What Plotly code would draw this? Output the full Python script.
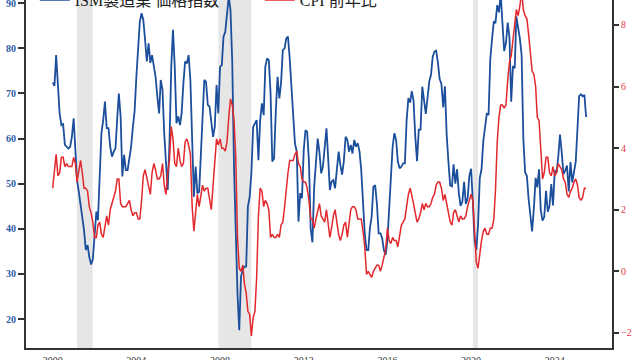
import pandas as pd
import plotly.graph_objects as go

# ISM Manufacturing Prices Index (monthly, Jan 2000 - Jul 2025)
ism_2000 = [72.4, 71.7, 78.5, 72.2, 65.6, 63.0, 63.2, 58.6, 58.2, 57.8, 58.2, 60.4]
ism_2001 = [64.5, 58.2, 50.8, 48.2, 45.3, 42.7, 39.7, 35.3, 36.4, 33.8, 32.1, 33.1]
ism_2002 = [39.0, 43.8, 41.9, 53.0, 61.2, 64.1, 68.2, 62.3, 62.3, 58.2, 56.0, 57.1]
ism_2003 = [57.8, 64.5, 70.0, 64.9, 51.6, 56.4, 53.0, 53.0, 55.2, 58.2, 62.6, 66.0]
ism_2004 = [73.7, 81.1, 85.9, 87.8, 86.3, 81.9, 77.1, 81.1, 76.8, 78.5, 76.0, 73.7]
ism_2005 = [69.3, 65.6, 73.0, 70.8, 61.2, 53.8, 48.6, 59.0, 75.9, 84.1, 75.9, 63.4]
ism_2006 = [64.9, 63.0, 65.6, 72.3, 77.1, 76.7, 78.5, 73.0, 61.2, 47.1, 53.8, 47.9]
ism_2007 = [48.2, 56.0, 62.6, 73.0, 72.6, 67.5, 67.1, 63.4, 60.4, 62.6, 71.9, 65.6]
ism_2008 = [75.9, 76.3, 82.6, 83.7, 87.8, 91.5, 88.5, 77.0, 53.5, 37.0, 25.5, 17.5]
ism_2009 = [29.4, 30.9, 31.6, 31.6, 44.9, 47.1, 52.3, 62.6, 63.4, 64.1, 55.2, 64.1]
ism_2010 = [67.8, 65.2, 75.9, 77.8, 77.4, 70.0, 54.9, 55.6, 66.3, 73.7, 68.9, 72.3]
ism_2011 = [79.6, 80.0, 82.2, 82.6, 77.8, 71.5, 65.6, 58.9, 57.1, 41.6, 47.9, 46.8]
ism_2012 = [57.5, 61.9, 61.5, 55.0, 40.0, 37.0, 49.3, 54.5, 60.0, 57.0, 52.3, 53.8]
ism_2013 = [58.2, 62.3, 56.0, 48.6, 50.5, 50.8, 49.0, 54.1, 57.1, 54.1, 52.0, 55.0]
ism_2014 = [60.4, 59.7, 57.1, 58.6, 56.7, 59.7, 58.2, 59.0, 57.1, 53.0, 44.9, 39.0]
ism_2015 = [35.3, 35.3, 40.1, 42.7, 49.3, 49.7, 45.6, 39.0, 39.0, 37.9, 35.3, 34.2]
ism_2016 = [37.5, 44.9, 52.3, 58.2, 61.2, 59.7, 54.9, 53.4, 53.8, 54.5, 54.5, 64.0]
ism_2017 = [69.0, 68.0, 70.5, 68.5, 60.5, 55.0, 62.0, 62.0, 71.5, 68.5, 65.5, 69.0]
ism_2018 = [72.7, 74.2, 78.1, 79.3, 79.5, 76.8, 73.2, 72.1, 66.9, 71.6, 60.7, 54.9]
ism_2019 = [49.6, 49.4, 54.3, 50.0, 53.2, 47.9, 45.1, 46.0, 50.4, 45.5, 46.7, 51.7]
ism_2020 = [53.3, 45.9, 37.4, 35.3, 40.8, 51.3, 53.2, 59.5, 62.8, 65.5, 65.4, 77.6]
ism_2021 = [82.1, 86.0, 85.6, 89.6, 88.0, 92.1, 85.7, 79.4, 81.2, 85.7, 82.4, 68.2]
ism_2022 = [76.1, 75.6, 87.1, 84.6, 82.2, 78.5, 60.0, 52.5, 51.7, 46.6, 43.0, 39.4]
ism_2023 = [44.5, 51.3, 49.2, 53.2, 44.2, 41.8, 42.6, 48.4, 43.8, 45.1, 49.9, 45.2]
ism_2024 = [52.9, 52.5, 55.8, 60.9, 57.0, 52.1, 52.9, 54.0, 48.3, 54.8, 50.3, 52.5]
ism_2025 = [54.9, 62.4, 69.4, 69.8, 69.4, 69.7, 64.8]

# CPI year-over-year (%)
cpi_2000 = [2.7, 3.2, 3.8, 3.1, 3.2, 3.7, 3.7, 3.4, 3.5, 3.4, 3.4, 3.4]
cpi_2001 = [3.7, 3.5, 2.9, 3.3, 3.6, 3.2, 2.7, 2.7, 2.6, 2.1, 1.9, 1.6]
cpi_2002 = [1.1, 1.1, 1.5, 1.6, 1.2, 1.1, 1.5, 1.8, 1.5, 2.0, 2.2, 2.4]
cpi_2003 = [2.6, 3.0, 3.0, 2.2, 2.1, 2.1, 2.1, 2.2, 2.3, 2.0, 1.8, 1.9]
cpi_2004 = [1.9, 1.7, 1.7, 2.3, 3.1, 3.3, 3.0, 2.7, 2.5, 3.2, 3.5, 3.3]
cpi_2005 = [3.0, 3.0, 3.1, 3.5, 2.8, 2.5, 3.2, 3.6, 4.7, 4.3, 3.5, 3.4]
cpi_2006 = [4.0, 3.6, 3.4, 3.5, 4.2, 4.3, 4.1, 3.8, 2.1, 1.3, 2.0, 2.5]
cpi_2007 = [2.1, 2.4, 2.8, 2.6, 2.7, 2.7, 2.4, 2.0, 2.8, 3.5, 4.3, 4.1]
cpi_2008 = [4.3, 4.0, 4.0, 3.9, 4.2, 5.0, 5.6, 5.4, 4.9, 3.7, 1.1, 0.1]
cpi_2009 = [0.0, 0.2, -0.4, -0.7, -1.3, -1.4, -2.1, -1.5, -1.3, -0.2, 1.8, 2.7]
cpi_2010 = [2.6, 2.1, 2.3, 2.2, 2.0, 1.1, 1.2, 1.1, 1.1, 1.2, 1.1, 1.5]
cpi_2011 = [1.6, 2.1, 2.7, 3.2, 3.6, 3.6, 3.6, 3.8, 3.9, 3.5, 3.4, 3.0]
cpi_2012 = [2.9, 2.9, 2.7, 2.3, 1.7, 1.7, 1.4, 1.7, 2.0, 2.2, 1.8, 1.7]
cpi_2013 = [1.6, 2.0, 1.5, 1.1, 1.4, 1.8, 2.0, 1.5, 1.2, 1.0, 1.2, 1.5]
cpi_2014 = [1.6, 1.1, 1.5, 2.0, 2.1, 2.1, 2.0, 1.7, 1.7, 1.7, 1.3, 0.8]
cpi_2015 = [-0.1, 0.0, -0.1, -0.2, 0.0, 0.1, 0.2, 0.2, 0.0, 0.2, 0.5, 0.7]
cpi_2016 = [1.4, 1.0, 0.9, 1.1, 1.0, 1.0, 0.8, 1.1, 1.5, 1.6, 1.7, 2.1]
cpi_2017 = [2.5, 2.7, 2.4, 2.2, 1.9, 1.6, 1.7, 1.9, 2.2, 2.0, 2.2, 2.1]
cpi_2018 = [2.1, 2.2, 2.4, 2.5, 2.8, 2.9, 2.9, 2.7, 2.3, 2.5, 2.2, 1.9]
cpi_2019 = [1.6, 1.5, 1.9, 2.0, 1.8, 1.6, 1.8, 1.7, 1.7, 1.8, 2.1, 2.3]
cpi_2020 = [2.5, 2.3, 1.5, 0.3, 0.1, 0.6, 1.0, 1.3, 1.4, 1.2, 1.2, 1.4]
cpi_2021 = [1.4, 1.7, 2.6, 4.2, 5.0, 5.4, 5.4, 5.3, 5.4, 6.2, 6.8, 7.0]
cpi_2022 = [7.5, 7.9, 8.5, 8.3, 8.6, 9.1, 8.5, 8.3, 8.2, 7.7, 7.1, 6.5]
cpi_2023 = [6.4, 6.0, 5.0, 4.9, 4.0, 3.0, 3.2, 3.7, 3.7, 3.2, 3.1, 3.4]
cpi_2024 = [3.1, 3.2, 3.5, 3.4, 3.3, 3.0, 2.9, 2.5, 2.4, 2.6, 2.7, 2.9]
cpi_2025 = [3.0, 2.8, 2.4, 2.3, 2.4, 2.7, 2.7]

# Recession periods (NBER)
recession_starts = ["2001-03-01", "2007-12-01", "2020-02-01"]
recession_ends = ["2001-11-30", "2009-06-30", "2020-04-30"]

x_tick_years = ["2000", "2004", "2008", "2012", "2016", "2020", "2024"]
left_ticks = [20, 30, 40, 50, 60, 70, 80, 90]
right_ticks = [-2, 0, 2, 4, 6, 8]

ism_name = "ISM製造業 価格指数"
cpi_name = "CPI 前年比"

ism = (ism_2000 + ism_2001 + ism_2002 + ism_2003 + ism_2004 + ism_2005 + ism_2006
       + ism_2007 + ism_2008 + ism_2009 + ism_2010 + ism_2011 + ism_2012 + ism_2013
       + ism_2014 + ism_2015 + ism_2016 + ism_2017 + ism_2018 + ism_2019 + ism_2020
       + ism_2021 + ism_2022 + ism_2023 + ism_2024 + ism_2025)
cpi = (cpi_2000 + cpi_2001 + cpi_2002 + cpi_2003 + cpi_2004 + cpi_2005 + cpi_2006
       + cpi_2007 + cpi_2008 + cpi_2009 + cpi_2010 + cpi_2011 + cpi_2012 + cpi_2013
       + cpi_2014 + cpi_2015 + cpi_2016 + cpi_2017 + cpi_2018 + cpi_2019 + cpi_2020
       + cpi_2021 + cpi_2022 + cpi_2023 + cpi_2024 + cpi_2025)
dates = pd.date_range("2000-01-01", periods=len(ism), freq="MS")

BLUE = "#1b4f9c"
RED = "#e3282d"
SERIF = "Liberation Serif, DejaVu Serif, Noto Sans CJK JP, serif"

fig = go.Figure()
fig.add_trace(go.Scatter(x=dates, y=ism, name=ism_name, mode="lines",
                         line=dict(color=BLUE, width=1.8), yaxis="y"))
fig.add_trace(go.Scatter(x=dates, y=cpi, name=cpi_name, mode="lines",
                         line=dict(color=RED, width=1.5), yaxis="y2"))

for s, e in zip(recession_starts, recession_ends):
    fig.add_shape(type="rect", xref="x", yref="paper", x0=s, x1=e, y0=0, y1=1,
                  fillcolor="#e6e6e6", line=dict(width=0), layer="below")

fig.update_layout(
    width=640, height=360,
    margin=dict(l=26, r=28, t=0, b=12, autoexpand=False),
    paper_bgcolor="white", plot_bgcolor="white",
    font=dict(family=SERIF, color="#222"),
    showlegend=True,
    legend=dict(orientation="h", x=0.015, xanchor="left", y=1.0, yanchor="middle",
                font=dict(size=16, family=SERIF, color="#222"),
                bgcolor="rgba(0,0,0,0)", entrywidth=180, entrywidthmode="pixels"),
    xaxis=dict(type="date", range=["1998-09-22", "2026-09-26"],
               tickvals=[f"{y}-01-01" for y in x_tick_years], ticktext=x_tick_years,
               showgrid=False, zeroline=False, showline=True, linecolor="#333",
               linewidth=2, ticks="", ticklabelstandoff=2, ticklabeloverflow="allow",
               tickfont=dict(size=10, color="#333", family=SERIF)),
    yaxis=dict(range=[13.57, 90.73], tickvals=left_ticks, showgrid=False,
               zeroline=False, showline=True, linecolor="#333", linewidth=2,
               ticks="outside", ticklen=6, tickcolor="#333", tickwidth=1.5,
               ticklabeloverflow="allow",
               tickfont=dict(size=10, color="#2b5caa", family=SERIF, weight="bold")),
    yaxis2=dict(range=[-2.49, 8.81], tickvals=right_ticks, overlaying="y",
                side="right", showgrid=False, zeroline=False, showline=True,
                linecolor="#333", linewidth=2, ticks="outside", ticklen=5,
                tickcolor="#333", tickwidth=1.5, ticklabeloverflow="allow",
                tickfont=dict(size=10, color="#e0353a", family=SERIF)),
)

fig.write_html("out.html", config={"displayModeBar": False},
               post_script="document.body.style.margin='0';document.body.style.overflow='hidden';")
